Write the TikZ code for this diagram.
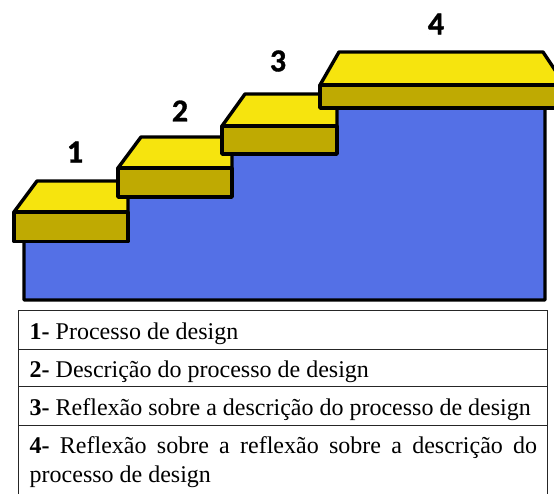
\documentclass[tikz,border=0pt]{standalone}
\usepackage{fontspec}
\setmainfont{Liberation Serif}
\newfontfamily\numfont[BoldFeatures={FakeBold=1}]{Carlito}
\definecolor{stairblue}{HTML}{5470E6}
\definecolor{treadyellow}{HTML}{F6E40E}
\definecolor{riserolive}{HTML}{BFAA02}
\tikzset{
  x=1pt,y=-1pt,
  stair/.style={draw=black,line width=3.4pt,line join=round},
  base/.style={stair,fill=stairblue},
  tread/.style={stair,fill=treadyellow},
  riser/.style={stair,fill=riserolive},
  rule/.style={draw=black!85,line width=0.9pt},
  stepnum/.style={font=\numfont\bfseries\fontsize{32}{32}\selectfont,inner sep=0pt,text=black},
  rowtext/.style={font=\fontsize{24}{29}\selectfont,anchor=base west,inner sep=0pt},
}
\begin{document}
\begin{tikzpicture}
\useasboundingbox (0,0) rectangle (554,494);
\clip (0,0) rectangle (554,494);
% blue staircase body
\draw[base] (24,240) -- (24,300) -- (545,300) -- (545,108) -- (320,108) -- (320,154) -- (222,154) -- (222,197) -- (118,197) -- (118,241) -- cycle;
% step 1
\draw[tread] (14,212) -- (37,181) -- (118,181) -- (128,190) -- (128,212) -- cycle;
\draw[riser] (14,212) rectangle (128,241.5);
% step 2
\draw[tread] (118,168) -- (141,137) -- (222,137) -- (232,146) -- (232,168) -- cycle;
\draw[riser] (118,168) rectangle (232,197);
% step 3
\draw[tread] (222,126) -- (245,94) -- (320,94) -- (337,100) -- (337,126) -- cycle;
\draw[riser] (222,126) rectangle (337,154);
% step 4
\draw[tread] (320,85) -- (339,52) -- (543,52) -- (565,85) -- cycle;
\draw[riser] (320,85) rectangle (570,108);
% step numbers
\node[stepnum] (n1) at (75,152) {1};
\node[stepnum] (n2) at (180,111) {2};
\node[stepnum] (n3) at (278,61) {3};
\node[stepnum] (n4) at (436,24) {4};
% legend table
\draw[rule] (18.5,494) -- (18.5,310.5) -- (547,310.5) -- (547,494);
\draw[rule] (18.5,349) -- (547,349);
\draw[rule] (18.5,386.5) -- (547,386.5);
\draw[rule] (18.5,425) -- (547,425);
\node[rowtext] (r1) at (29.5,339) {\textbf{1-} Processo de design};
\node[rowtext] (r2) at (29.5,377) {\textbf{2-} Descrição do processo de design};
\node[rowtext] (r3) at (29.5,415) {\textbf{3-} Reflexão sobre a descrição do processo de design};
\node[rowtext,text width=507.5pt,align=justify] (r4) at (29.5,453) {\textbf{4-} Reflexão sobre a reflexão sobre a descrição do\linebreak processo de design};
\end{tikzpicture}
\end{document}
